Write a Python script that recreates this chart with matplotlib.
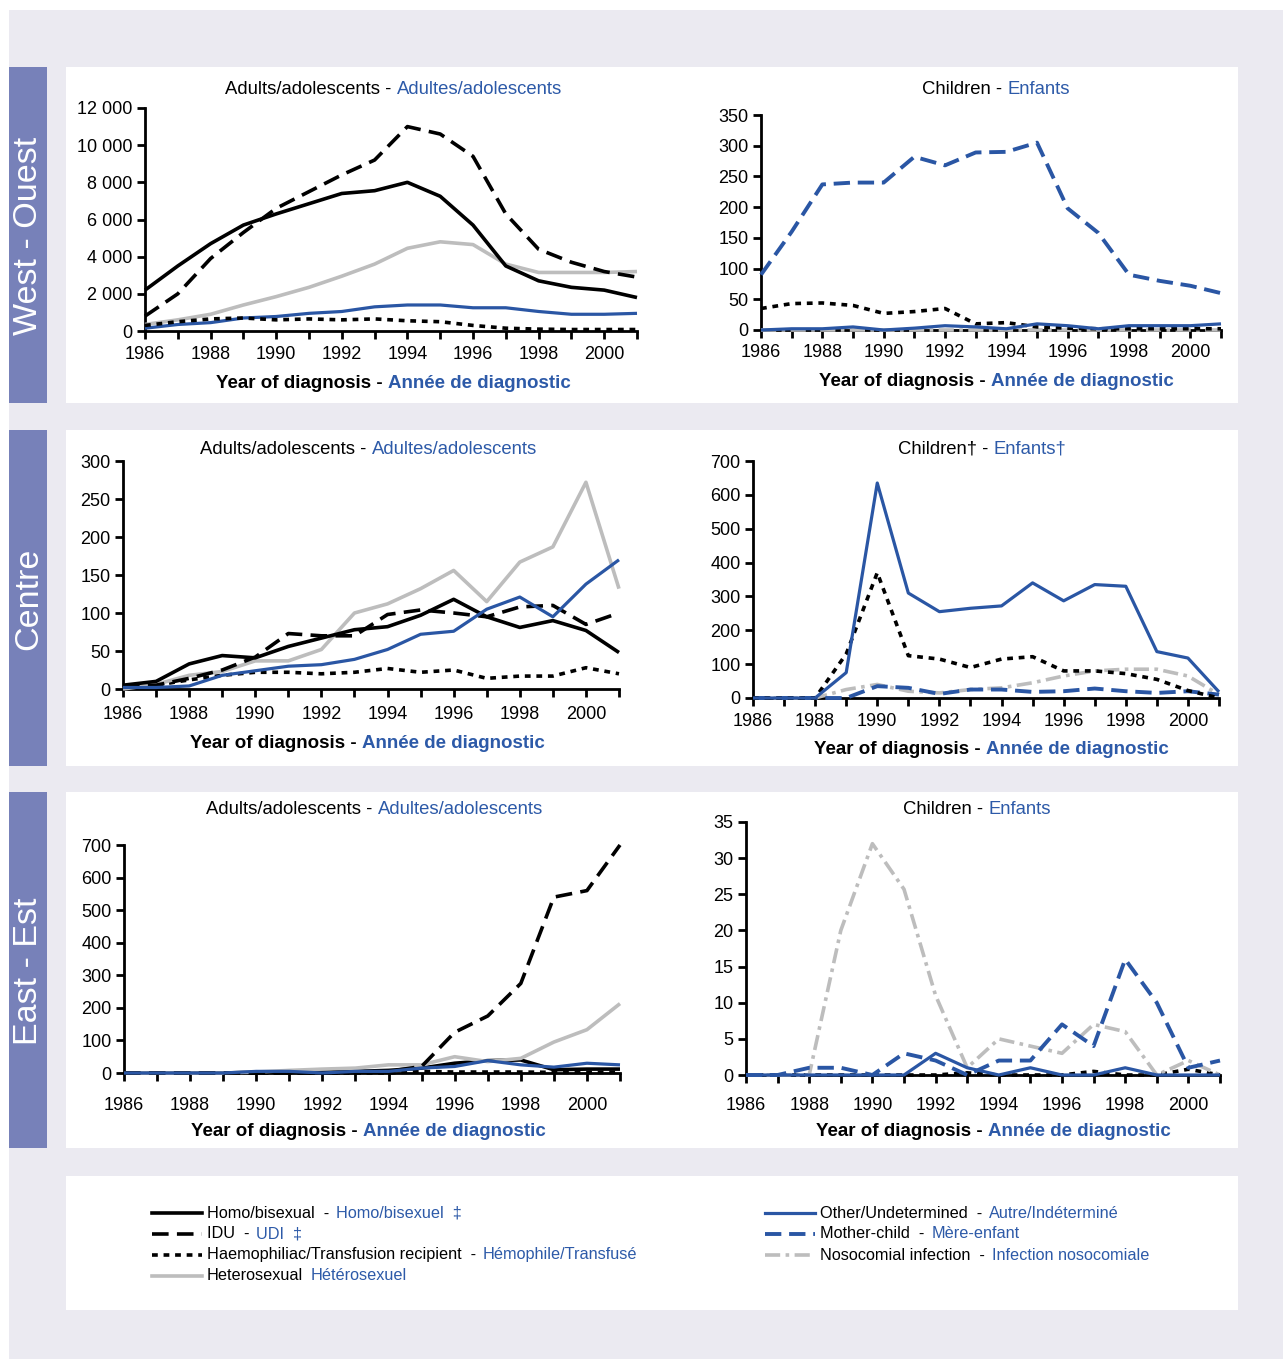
import matplotlib
matplotlib.use("Agg")
import matplotlib.pyplot as plt
from matplotlib.patches import Rectangle
from matplotlib.lines import Line2D
from matplotlib.offsetbox import TextArea, HPacker, AnnotationBbox
from matplotlib.ticker import FuncFormatter

plt.rcParams['font.family'] = ['Liberation Sans', 'DejaVu Sans']

W, H = 1283, 1359
BLUE = '#2a56a4'
LBLUE = '#2d5aa8'
GRAY = '#bdbdbd'
SIDE = '#7781b9'
BG = '#ebeaf1'

years = list(range(1986, 2002))

# West - adults
w_ad_homo = [2200, 3500, 4700, 5700, 6300, 6850, 7400, 7550, 8000, 7250, 5700, 3500, 2700, 2350, 2200, 1800]
w_ad_idu = [800, 2000, 3900, 5300, 6600, 7500, 8400, 9200, 11000, 10600, 9400, 6300, 4400, 3700, 3200, 2900]
w_ad_haemo = [300, 500, 650, 700, 600, 650, 600, 650, 550, 500, 300, 150, 100, 80, 80, 80]
w_ad_hetero = [350, 600, 900, 1400, 1850, 2350, 2950, 3600, 4450, 4800, 4650, 3600, 3150, 3150, 3150, 3200]
w_ad_other = [150, 350, 450, 700, 780, 950, 1050, 1300, 1400, 1400, 1250, 1250, 1050, 900, 900, 950]

# West - children
w_ch_mother = [90, 160, 237, 240, 240, 282, 268, 289, 290, 305, 198, 158, 90, 80, 72, 60]
w_ch_haemo = [35, 43, 44, 40, 27, 30, 35, 10, 12, 5, 3, 2, 2, 2, 2, 2]
w_ch_other = [0, 2, 2, 5, 0, 3, 7, 5, 2, 10, 7, 2, 7, 7, 7, 10]
w_ch_noso = [0, 0, 0, 0, 0, 0, 0, 0, 0, 0, 0, 0, 0, 0, 0, 0]

# Centre - adults
c_ad_homo = [5, 10, 33, 44, 41, 56, 67, 78, 82, 97, 118, 95, 81, 90, 77, 48]
c_ad_idu = [3, 5, 14, 25, 42, 73, 70, 70, 98, 104, 100, 95, 108, 110, 85, 100]
c_ad_haemo = [3, 5, 12, 18, 22, 22, 20, 22, 27, 22, 25, 14, 17, 17, 28, 20]
c_ad_hetero = [0, 6, 18, 23, 37, 37, 52, 100, 112, 132, 156, 115, 167, 187, 272, 132]
c_ad_other = [2, 2, 4, 18, 24, 30, 32, 39, 52, 72, 76, 105, 121, 95, 138, 170]

# Centre - children
c_ch_other = [0, 0, 0, 75, 635, 310, 255, 265, 272, 340, 287, 335, 330, 137, 118, 18]
c_ch_haemo = [0, 0, 0, 130, 370, 125, 115, 90, 115, 122, 80, 80, 72, 55, 22, 0]
c_ch_noso = [0, 0, 0, 25, 40, 20, 15, 25, 30, 45, 65, 80, 85, 85, 65, 10]
c_ch_mother = [0, 0, 0, 0, 35, 30, 12, 25, 25, 18, 20, 28, 20, 15, 20, 10]

# East - adults
e_ad_idu = [0, 0, 0, 0, 0, 0, 0, 2, 5, 20, 125, 175, 275, 540, 560, 700]
e_ad_hetero = [0, 0, 0, 0, 3, 8, 12, 15, 25, 25, 50, 35, 45, 95, 133, 213]
e_ad_homo = [0, 0, 0, 0, 2, 3, 3, 5, 8, 15, 30, 38, 40, 10, 12, 12]
e_ad_haemo = [0, 0, 0, 0, 0, 0, 0, 0, 0, 5, 3, 3, 3, 2, 2, 2]
e_ad_other = [0, 0, 0, 0, 5, 5, 0, 5, 5, 15, 20, 38, 25, 18, 30, 25]

# East - children
e_ch_noso = [0, 0, 0, 20, 32, 25.7, 11, 1, 5, 4, 3, 7, 6, 0, 2, 0]
e_ch_mother = [0, 0, 1, 1, 0, 3, 2, 0, 2, 2, 7, 4, 16, 10, 1, 2]
e_ch_other = [0, 0, 0, 0, 0, 0, 3, 1, 0, 1, 0, 0, 1, 0, 0, 0]
e_ch_haemo = [0, 0, 0, 0, 0, 0, 0, 0.3, 0, 0, 0, 0.5, 0, 0, 0.8, 0]

styles = {
    'homo': dict(color='black', lw=2.6, ls='-'),
    'idu': dict(color='black', lw=2.6, dashes=(4.6, 2.3)),
    'haemo': dict(color='black', lw=2.6, dashes=(1.6, 1.6)),
    'hetero': dict(color=GRAY, lw=2.6, ls='-'),
    'other': dict(color=BLUE, lw=2.3, ls='-'),
    'mother': dict(color=BLUE, lw=2.8, dashes=(4.2, 2.0)),
    'noso': dict(color=GRAY, lw=2.6, dashes=(4.2, 1.5, 1, 1.5)),
}

fig = plt.figure(figsize=(W / 100, H / 100), dpi=100)
fig.patch.set_facecolor('white')

bg = fig.add_axes([0, 0, 1, 1])
bg.set_xlim(0, W)
bg.set_ylim(H, 0)
bg.axis('off')
bg.add_patch(Rectangle((9, 10), W - 9, H - 10, color=BG, lw=0))
for top, bot, name in [(67, 403, 'West - Ouest'), (430, 766, 'Centre'), (792, 1148, 'East - Est')]:
    bg.add_patch(Rectangle((9, top), 38, bot - top, color=SIDE, lw=0))
    bg.add_patch(Rectangle((66, top), 1172, bot - top, color='white', lw=0))
    bg.text(29, (top + bot) / 2 + 1, name, rotation=90, color='white', fontsize=24.5,
            ha='center', va='center')
bg.add_patch(Rectangle((66, 1176), 1172, 134, color='white', lw=0))


def two_color(x, y, black, blue, size=13.3, weight='normal', align=(0.5, 0.5), sep=4):
    a = TextArea(black, textprops=dict(color='black', fontsize=size, fontweight=weight))
    b = TextArea(blue, textprops=dict(color=LBLUE, fontsize=size, fontweight=weight))
    box = HPacker(children=[a, b], sep=sep, pad=0, align='baseline')
    ab = AnnotationBbox(box, (x, y), xycoords='data', frameon=False, box_alignment=align,
                        pad=0)
    bg.add_artist(ab)


def panel(box, ymax, ystep, series, title, tcenter, lcenter, xpad=5):
    x0, top, x1, bot = box
    ax = fig.add_axes([x0 / W, 1 - bot / H, (x1 - x0) / W, (bot - top) / H])
    ax.set_facecolor('none')
    for key, vals in series:
        ax.plot(years, vals, clip_on=False, solid_capstyle='butt', dash_capstyle='butt',
                **styles[key])
    ax.set_xlim(1986, 2001)
    ax.set_ylim(0, ymax)
    ax.set_xticks(years)
    ax.set_xticklabels([str(y) if y % 2 == 0 else '' for y in years])
    ax.set_yticks(list(range(0, ymax + 1, ystep)))
    ax.yaxis.set_major_formatter(FuncFormatter(lambda v, p: f"{v:,.0f}".replace(',', ' ')))
    for s in ['top', 'right']:
        ax.spines[s].set_visible(False)
    for s in ['left', 'bottom']:
        ax.spines[s].set_linewidth(2)
        ax.spines[s].set_zorder(0.5)
    ax.tick_params(direction='out', length=6, width=2, labelsize=13)
    ax.tick_params(axis='x', pad=xpad)
    ax.tick_params(axis='y', pad=3)
    two_color(tcenter[0], tcenter[1], title[0], title[1])
    two_color(lcenter[0], lcenter[1], 'Year of diagnosis -', 'Année de diagnostic',
              size=13.5, weight='bold')
    return ax


panel((145, 108, 637, 331), 12000, 2000,
      [('hetero', w_ad_hetero), ('other', w_ad_other), ('haemo', w_ad_haemo),
       ('homo', w_ad_homo), ('idu', w_ad_idu)],
      ('Adults/adolescents -', 'Adultes/adolescents'), (394, 89), (393, 384))

panel((761, 115, 1221, 330), 350, 50,
      [('noso', w_ch_noso), ('haemo', w_ch_haemo), ('other', w_ch_other),
       ('mother', w_ch_mother)],
      ('Children -', 'Enfants'), (996, 89), (996, 381), xpad=4)

panel((123, 461, 619, 689), 300, 50,
      [('haemo', c_ad_haemo), ('hetero', c_ad_hetero), ('idu', c_ad_idu),
       ('homo', c_ad_homo), ('other', c_ad_other)],
      ('Adults/adolescents -', 'Adultes/adolescents'), (369, 449), (367, 744), xpad=6)

panel((753, 461, 1219, 698), 700, 100,
      [('noso', c_ch_noso), ('mother', c_ch_mother), ('haemo', c_ch_haemo),
       ('other', c_ch_other)],
      ('Children† -', 'Enfants†'), (982, 449), (991, 750))

panel((124, 845, 620, 1073), 700, 100,
      [('haemo', e_ad_haemo), ('homo', e_ad_homo), ('hetero', e_ad_hetero),
       ('idu', e_ad_idu), ('other', e_ad_other)],
      ('Adults/adolescents -', 'Adultes/adolescents'), (375, 810), (368, 1131), xpad=11)

panel((746, 822, 1220, 1075), 35, 5,
      [('haemo', e_ch_haemo), ('noso', e_ch_noso), ('other', e_ch_other),
       ('mother', e_ch_mother)],
      ('Children -', 'Enfants'), (977, 810), (993, 1131), xpad=10)

# legend
legend_left = [
    ('homo', 'Homo/bisexual  -', 'Homo/bisexuel  ‡'),
    ('idu', 'IDU  -', 'UDI  ‡'),
    ('haemo', 'Haemophiliac/Transfusion recipient  -', 'Hémophile/Transfusé'),
    ('hetero', 'Heterosexual', 'Hétérosexuel'),
]
legend_right = [
    ('other', 'Other/Undetermined  -', 'Autre/Indéterminé'),
    ('mother', 'Mother-child  -', 'Mère-enfant'),
    ('noso', 'Nosocomial infection  -', 'Infection nosocomiale'),
]
for col, (lx, entries) in enumerate([(152, legend_left), (765, legend_right)]):
    for i, (key, en, fr) in enumerate(entries):
        y = 1213 + i * 21
        bg.add_line(Line2D([lx, lx + 50], [y, y], **styles[key]))
        two_color(lx + 55, y, en, fr, size=11.7, align=(0, 0.5), sep=5)

fig.savefig('out.png', dpi=100, facecolor='white')
